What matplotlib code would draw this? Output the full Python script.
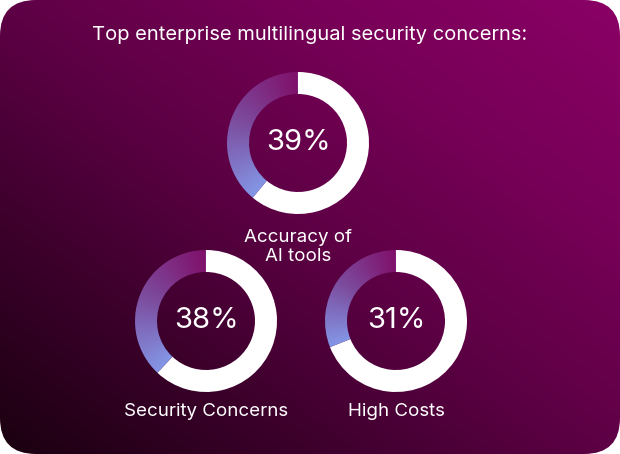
import numpy as np
import matplotlib
matplotlib.use("Agg")
import matplotlib.pyplot as plt
from matplotlib.patches import FancyBboxPatch, Wedge
from matplotlib.colors import to_rgb

# Survey data
title = "Top enterprise multilingual security concerns:"
labels = ["Accuracy of\nAI tools", "Security Concerns", "High Costs"]
shares = [39, 38, 31]

W, H = 620, 454
plt.rcParams['font.family'] = ['Inter', 'DejaVu Sans']

fig = plt.figure(figsize=(W / 100, H / 100), dpi=100, facecolor="white")
ax = fig.add_axes([0, 0, 1, 1])
ax.set_xlim(0, W)
ax.set_ylim(0, H)
ax.set_aspect("equal")
ax.axis("off")


def lerp_colors(stops, t):
    t = np.clip(t, 0, 1)
    pos = np.array([s[0] for s in stops])
    cols = np.array([to_rgb(s[1]) for s in stops])
    out = np.empty(t.shape + (3,))
    for k in range(3):
        out[..., k] = np.interp(t, pos, cols[:, k])
    return out


# Card background: corner-to-corner gradient inside a rounded rectangle
yy, xx = np.mgrid[0:H, 0:W] + 0.5
proj = (xx / W + yy / H) / 2
bg_stops = [(0.0, "#1a0010"), (0.3, "#420030"), (0.5, "#5e0045"),
            (0.75, "#780058"), (1.0, "#8a0066")]
bg = lerp_colors(bg_stops, proj)
card = FancyBboxPatch((0, 0), W, H, boxstyle="round,pad=0,rounding_size=36",
                      facecolor="none", edgecolor="none")
ax.add_patch(card)
im = ax.imshow(bg, extent=(0, W, 0, H), origin="lower", interpolation="bilinear", zorder=0)
im.set_clip_path(card)

# Donut layout (pixel centres, y measured from the top)
centers = [(298, 143), (206, 321), (396, 321)]
r_out, ring = 71, 22
arc_stops = [(0.0, "#80106a"), (0.5, "#7c4c9e"), (1.0, "#8496e6")]

for (cx, cy_top), share in zip(centers, shares):
    cy = H - cy_top
    span = share / 100 * 360
    # white remainder
    ax.add_patch(Wedge((cx, cy), r_out, 90 + span, 450, width=ring,
                       facecolor="white", edgecolor="none", zorder=2))
    # gradient share arc (conic gradient clipped to wedge)
    x0, x1 = cx - r_out - 2, cx + r_out + 2
    y0, y1 = cy - r_out - 2, cy + r_out + 2
    gy, gx = np.mgrid[y0:y1:300j, x0:x1:300j]
    ang = (np.degrees(np.arctan2(gy - cy, gx - cx)) - 90) % 360
    img = lerp_colors(arc_stops, ang / span)
    w = Wedge((cx, cy), r_out, 90, 90 + span, width=ring,
              facecolor="none", edgecolor="none")
    ax.add_patch(w)
    gi = ax.imshow(img, extent=(x0, x1, y0, y1), origin="lower",
                   interpolation="bilinear", zorder=2)
    gi.set_clip_path(w)
    ax.text(cx, cy, f"{share}%", ha="center", va="center", color="white",
            fontsize=21, zorder=3)

# Category labels
ax.text(centers[0][0], H - 247, labels[0], ha="center", va="center",
        color="white", fontsize=13.5, linespacing=1.15, zorder=3)
for (cx, _), lab in zip(centers[1:], labels[1:]):
    ax.text(cx, H - 411, lab, ha="center", va="center", color="white",
            fontsize=13.5, zorder=3)

ax.text(W / 2, H - 35, title, ha="center", va="center", color="white",
        fontsize=14.5, zorder=3)

fig.savefig("out.png", dpi=100, facecolor="white")
